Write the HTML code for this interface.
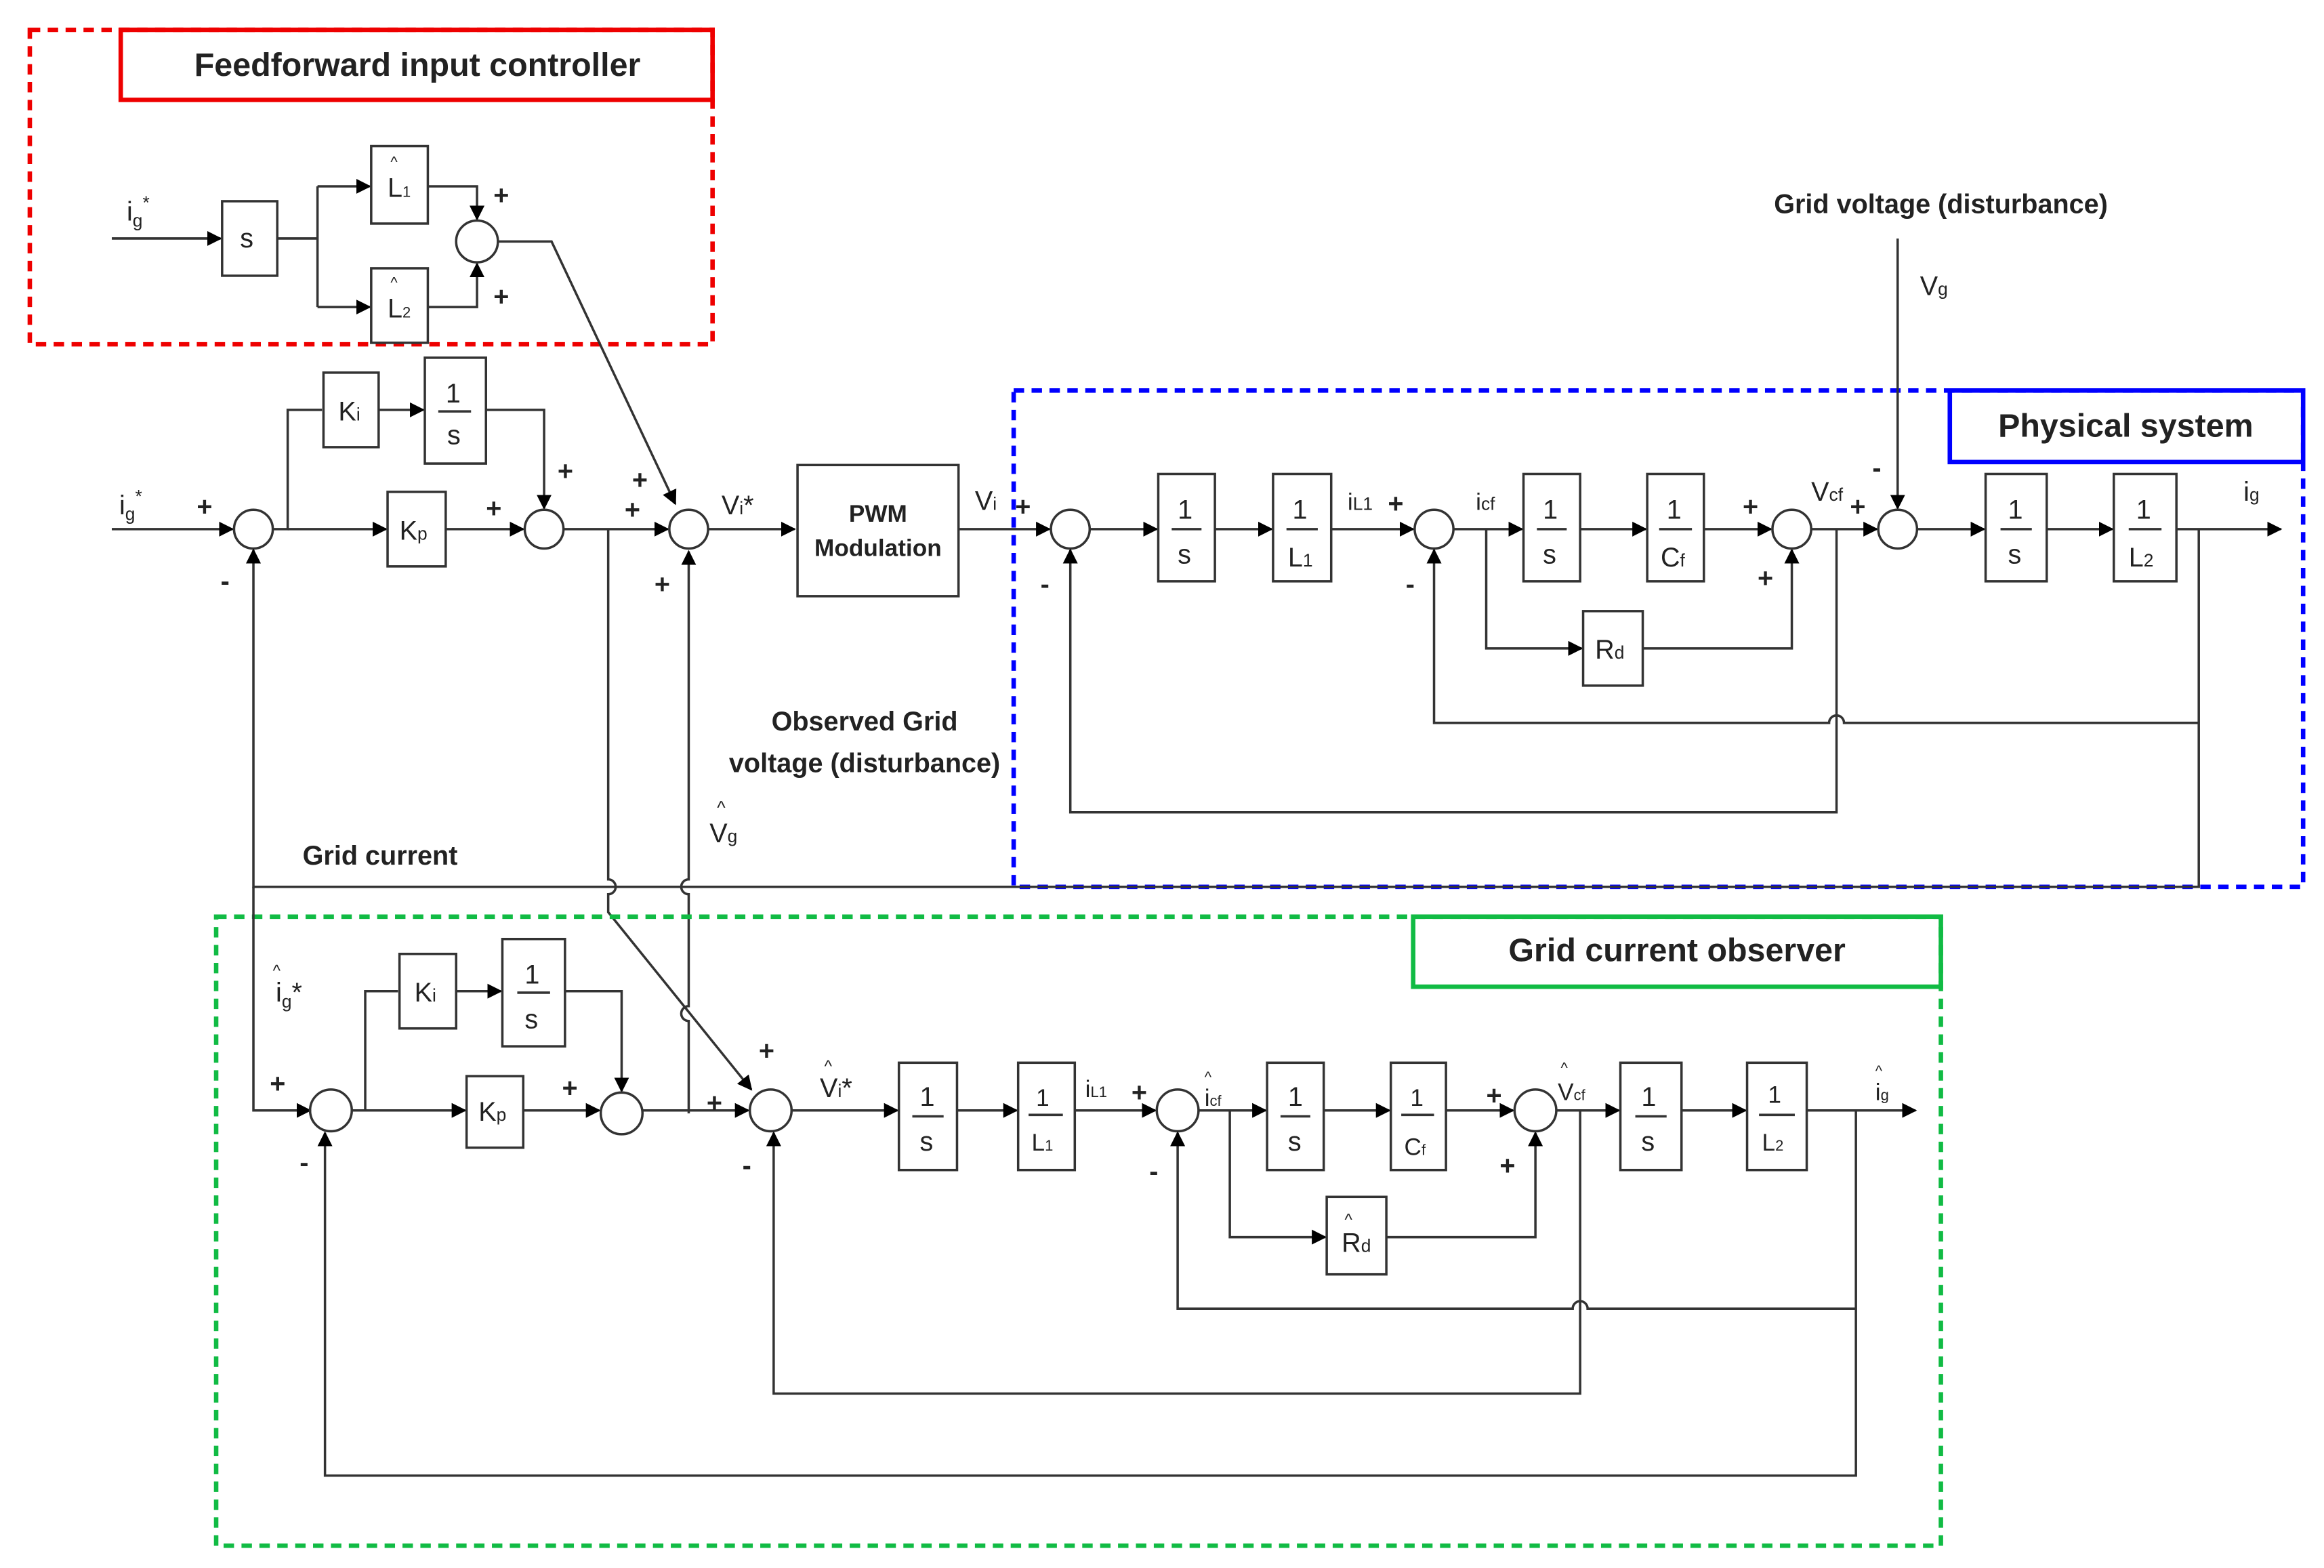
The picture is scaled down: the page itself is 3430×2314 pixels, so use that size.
<!DOCTYPE html>
<html><head><meta charset="utf-8"><style>
html,body{margin:0;padding:0;background:#fff;}
svg{display:block;}
text{font-family:"Liberation Sans",sans-serif;fill:#222;}
.b{font-weight:bold;}
</style></head><body>
<svg width="3430" height="2314" viewBox="0 0 1559 1052" preserveAspectRatio="none" xmlns="http://www.w3.org/2000/svg">
<defs><marker id="a" markerWidth="10" markerHeight="10" refX="9" refY="5" orient="auto" markerUnits="userSpaceOnUse"><path d="M0,0 L10,5 L0,10 z" fill="#000"/></marker></defs>
<g stroke="#333" stroke-width="1.6" fill="none">
<!-- Feedforward -->
<rect x="20" y="20" width="458" height="211" stroke="#e00" stroke-width="3" stroke-dasharray="7,5"/>
<rect x="81" y="20" width="397" height="47" stroke="#e00" stroke-width="3"/>
<line x1="75" y1="160" x2="148" y2="160" marker-end="url(#a)"/>
<rect x="149" y="135" width="37" height="50"/>
<path d="M186,160 H213 M213,125 V206"/>
<line x1="213" y1="125" x2="248" y2="125" marker-end="url(#a)"/>
<line x1="213" y1="206" x2="248" y2="206" marker-end="url(#a)"/>
<rect x="249" y="98" width="38" height="52"/>
<rect x="249" y="180" width="38" height="50"/>
<path d="M287,125 H320 V147" marker-end="url(#a)"/>
<path d="M287,206 H320 V177" marker-end="url(#a)"/>
<circle cx="320" cy="162" r="14"/>
<path d="M334,162 H370 L453,338" marker-end="url(#a)"/>
<!-- PI main -->
<line x1="75" y1="355" x2="156" y2="355" marker-end="url(#a)"/>
<circle cx="170" cy="355" r="13"/>
<path d="M183,355 H193 V275 H216"/>
<line x1="193" y1="355" x2="259" y2="355" marker-end="url(#a)"/>
<rect x="217" y="250" width="37" height="50"/>
<line x1="254" y1="275" x2="284" y2="275" marker-end="url(#a)"/>
<rect x="285" y="240" width="41" height="71"/>
<path d="M326,275 H365 V341" marker-end="url(#a)"/>
<rect x="260" y="330" width="39" height="50"/>
<line x1="299" y1="355" x2="351" y2="355" marker-end="url(#a)"/>
<circle cx="365" cy="355" r="13"/>
<line x1="378" y1="355" x2="448" y2="355" marker-end="url(#a)"/>
<circle cx="462" cy="355" r="13"/>
<line x1="475" y1="355" x2="533" y2="355" marker-end="url(#a)"/>
<rect x="535" y="312" width="108" height="88"/>
<line x1="643" y1="355" x2="704" y2="355" marker-end="url(#a)"/>
<!-- branch to observer -->
<path d="M408,355 V590 A5,5 0 0 1 408,600 V612 L504,731" marker-end="url(#a)"/>
<path d="M462,747 V685 A5,5 0 0 1 462,675 V600 A5,5 0 0 1 462,590 V370" marker-end="url(#a)"/>
<!-- Physical -->
<rect x="680" y="262" width="865" height="333" stroke="#00f" stroke-width="3" stroke-dasharray="7,5"/>
<rect x="1308" y="262" width="237" height="48" stroke="#00f" stroke-width="3"/>
<circle cx="718" cy="355" r="13"/>
<line x1="731" y1="355" x2="776" y2="355" marker-end="url(#a)"/>
<rect x="777" y="318" width="38" height="72"/>
<line x1="815" y1="355" x2="853" y2="355" marker-end="url(#a)"/>
<rect x="854" y="318" width="39" height="72"/>
<line x1="893" y1="355" x2="948" y2="355" marker-end="url(#a)"/>
<circle cx="962" cy="355" r="13"/>
<line x1="975" y1="355" x2="1021" y2="355" marker-end="url(#a)"/>
<rect x="1022" y="318" width="38" height="72"/>
<line x1="1060" y1="355" x2="1104" y2="355" marker-end="url(#a)"/>
<rect x="1105" y="318" width="38" height="72"/>
<line x1="1143" y1="355" x2="1188" y2="355" marker-end="url(#a)"/>
<path d="M997,355 V435 H1061" marker-end="url(#a)"/>
<rect x="1062" y="410" width="40" height="50"/>
<path d="M1102,435 H1202 V369" marker-end="url(#a)"/>
<circle cx="1202" cy="355" r="13"/>
<line x1="1215" y1="355" x2="1259" y2="355" marker-end="url(#a)"/>
<line x1="1273" y1="160" x2="1273" y2="341" marker-end="url(#a)"/>
<circle cx="1273" cy="355" r="13"/>
<line x1="1286" y1="355" x2="1331" y2="355" marker-end="url(#a)"/>
<rect x="1332" y="318" width="41" height="72"/>
<line x1="1373" y1="355" x2="1417" y2="355" marker-end="url(#a)"/>
<rect x="1418" y="318" width="42" height="72"/>
<line x1="1460" y1="355" x2="1530" y2="355" marker-end="url(#a)"/>
<path d="M1475,355 V595 H170 V369" marker-end="url(#a)"/>
<path d="M1475,485 H1237 A5,5 0 0 0 1227,485 H962 V369" marker-end="url(#a)"/>
<path d="M1232,355 V545 H718 V369" marker-end="url(#a)"/>
<!-- Observer -->
<rect x="145" y="615" width="1157" height="422" stroke="#1b4" stroke-width="3" stroke-dasharray="7,5"/>
<rect x="948" y="615" width="354" height="47" stroke="#1b4" stroke-width="3"/>
<path d="M170,595 V745 H208" marker-end="url(#a)"/>
<circle cx="222" cy="745" r="14"/>
<path d="M236,745 H245 V665 H267"/>
<line x1="245" y1="745" x2="312" y2="745" marker-end="url(#a)"/>
<rect x="268" y="640" width="38" height="50"/>
<line x1="306" y1="665" x2="336" y2="665" marker-end="url(#a)"/>
<rect x="337" y="630" width="42" height="72"/>
<path d="M379,665 H417 V732" marker-end="url(#a)"/>
<rect x="313" y="722" width="38" height="48"/>
<line x1="351" y1="745" x2="402" y2="745" marker-end="url(#a)"/>
<circle cx="417" cy="747" r="14"/>
<line x1="431" y1="745" x2="502" y2="745" marker-end="url(#a)"/>
<circle cx="517" cy="745" r="14"/>
<line x1="531" y1="745" x2="602" y2="745" marker-end="url(#a)"/>
<rect x="603" y="713" width="39" height="72"/>
<line x1="642" y1="745" x2="682" y2="745" marker-end="url(#a)"/>
<rect x="683" y="713" width="38" height="72"/>
<line x1="721" y1="745" x2="775" y2="745" marker-end="url(#a)"/>
<circle cx="790" cy="745" r="14"/>
<line x1="804" y1="745" x2="849" y2="745" marker-end="url(#a)"/>
<rect x="850" y="713" width="38" height="72"/>
<line x1="888" y1="745" x2="932" y2="745" marker-end="url(#a)"/>
<rect x="933" y="713" width="37" height="72"/>
<line x1="970" y1="745" x2="1015" y2="745" marker-end="url(#a)"/>
<path d="M825,745 V830 H889" marker-end="url(#a)"/>
<rect x="890" y="803" width="40" height="52"/>
<path d="M930,830 H1030 V760" marker-end="url(#a)"/>
<circle cx="1030" cy="745" r="14"/>
<line x1="1044" y1="745" x2="1086" y2="745" marker-end="url(#a)"/>
<rect x="1087" y="713" width="41" height="72"/>
<line x1="1128" y1="745" x2="1171" y2="745" marker-end="url(#a)"/>
<rect x="1172" y="713" width="40" height="72"/>
<line x1="1212" y1="745" x2="1285" y2="745" marker-end="url(#a)"/>
<path d="M1060,745 V935 H519 V760" marker-end="url(#a)"/>
<path d="M1245,745 V990 H218 V760" marker-end="url(#a)"/>
<path d="M1245,878 H1065 A5,5 0 0 0 1055,878 H790 V760" marker-end="url(#a)"/>
<!-- fraction bars -->
<path d="M294,276 H316 M786,355 H806 M863,355 H884 M1031,355 H1051 M1113,355 H1135 M1342,355 H1363 M1428,355 H1450 M347,666 H369 M612,749 H633 M690,748 H713 M859,749 H879 M940,748 H962 M1097,749 H1118 M1180,748 H1204"/>
</g>
<g font-size="18">
<text x="280" y="51" text-anchor="middle" class="b" font-size="22">Feedforward input controller</text>
<text x="1426" y="293" text-anchor="middle" class="b" font-size="22">Physical system</text>
<text x="1125" y="645" text-anchor="middle" class="b" font-size="22">Grid current observer</text>
<text x="1302" y="143" text-anchor="middle" class="b">Grid voltage (disturbance)</text>
<text x="580" y="490" text-anchor="middle" class="b">Observed Grid</text>
<text x="580" y="518" text-anchor="middle" class="b">voltage (disturbance)</text>
<text x="255" y="580" text-anchor="middle" class="b">Grid current</text>
<text x="589" y="350" text-anchor="middle" class="b" font-size="16">PWM</text>
<text x="589" y="373" text-anchor="middle" class="b" font-size="16">Modulation</text>
<!-- labels -->
<text x="85" y="148">i<tspan font-size="12" dy="4">g</tspan><tspan font-size="12" dy="-12">*</tspan></text>
<text x="80" y="345">i<tspan font-size="12" dy="4">g</tspan><tspan font-size="12" dy="-12">*</tspan></text>
<text x="161" y="166">s</text>
<text x="260" y="132">L<tspan font-size="10">1</tspan></text><text x="262" y="112" font-size="10">^</text>
<text x="260" y="213">L<tspan font-size="10">2</tspan></text><text x="262" y="193" font-size="10">^</text>
<text x="227" y="282">K<tspan font-size="12">i</tspan></text>
<text x="299" y="270">1</text><text x="300" y="298">s</text>
<text x="268" y="362">K<tspan font-size="12">p</tspan></text>
<text x="484" y="345">V<tspan font-size="12">i</tspan>*</text>
<text x="654" y="342">V<tspan font-size="12">i</tspan></text>
<text x="476" y="565">V<tspan font-size="12">g</tspan></text><text x="481" y="546" font-size="12">^</text>
<text x="1288" y="198">V<tspan font-size="12">g</tspan></text>
<text x="790" y="348">1</text><text x="790" y="378">s</text>
<text x="867" y="348">1</text><text x="864" y="380">L<tspan font-size="12">1</tspan></text>
<text x="904" y="342" font-size="16">i<tspan font-size="12">L1</tspan></text>
<text x="990" y="342" font-size="16">i<tspan font-size="12">cf</tspan></text>
<text x="1035" y="348">1</text><text x="1035" y="378">s</text>
<text x="1118" y="348">1</text><text x="1114" y="380">C<tspan font-size="12">f</tspan></text>
<text x="1070" y="442">R<tspan font-size="12">d</tspan></text>
<text x="1215" y="336">V<tspan font-size="12">cf</tspan></text>
<text x="1347" y="348">1</text><text x="1347" y="378">s</text>
<text x="1433" y="348">1</text><text x="1428" y="380">L<tspan font-size="12">2</tspan></text>
<text x="1505" y="336">i<tspan font-size="12">g</tspan></text>
<!-- observer labels -->
<text x="185" y="672">i<tspan font-size="12" dy="4">g</tspan><tspan dy="-4">*</tspan></text><text x="183" y="655" font-size="11">^</text>
<text x="278" y="672">K<tspan font-size="12">i</tspan></text>
<text x="352" y="660">1</text><text x="352" y="690">s</text>
<text x="321" y="752">K<tspan font-size="12">p</tspan></text>
<text x="550" y="736">V<tspan font-size="12">i</tspan>*</text><text x="553" y="719" font-size="11">^</text>
<text x="617" y="742">1</text><text x="617" y="772">s</text>
<text x="695" y="742" font-size="16">1</text><text x="692" y="772" font-size="16">L<tspan font-size="10">1</tspan></text>
<text x="728" y="736" font-size="16">i<tspan font-size="10">L1</tspan></text>
<text x="808" y="742" font-size="16">i<tspan font-size="10">cf</tspan></text><text x="808" y="726" font-size="10">^</text>
<text x="864" y="742">1</text><text x="864" y="772">s</text>
<text x="946" y="742" font-size="16">1</text><text x="942" y="775" font-size="16">C<tspan font-size="10">f</tspan></text>
<text x="900" y="840">R<tspan font-size="12">d</tspan></text><text x="902" y="822" font-size="11">^</text>
<text x="1045" y="738" font-size="16">V<tspan font-size="10">cf</tspan></text><text x="1047" y="720" font-size="10">^</text>
<text x="1101" y="742">1</text><text x="1101" y="772">s</text>
<text x="1186" y="740" font-size="16">1</text><text x="1182" y="772" font-size="16">L<tspan font-size="10">2</tspan></text>
<text x="1258" y="738" font-size="16">i<tspan font-size="10">g</tspan></text><text x="1258" y="722" font-size="10">^</text>
</g>
<g font-size="18" class="b" font-weight="bold">
<text x="331" y="137">+</text><text x="331" y="205">+</text>
<text x="132" y="346">+</text><text x="148" y="396">-</text>
<text x="326" y="347">+</text><text x="374" y="322">+</text>
<text x="419" y="348">+</text><text x="424" y="328">+</text><text x="439" y="398">+</text>
<text x="681" y="346">+</text><text x="698" y="398">-</text>
<text x="931" y="344">+</text><text x="943" y="398">-</text>
<text x="1169" y="346">+</text><text x="1179" y="394">+</text>
<text x="1241" y="346">+</text><text x="1256" y="320">-</text>
<text x="181" y="733">+</text><text x="201" y="786">-</text>
<text x="377" y="736">+</text>
<text x="474" y="746">+</text><text x="509" y="711">+</text><text x="498" y="788">-</text>
<text x="759" y="739">+</text><text x="771" y="792">-</text>
<text x="997" y="741">+</text><text x="1006" y="788">+</text>
</g>
</svg>
</body></html>
